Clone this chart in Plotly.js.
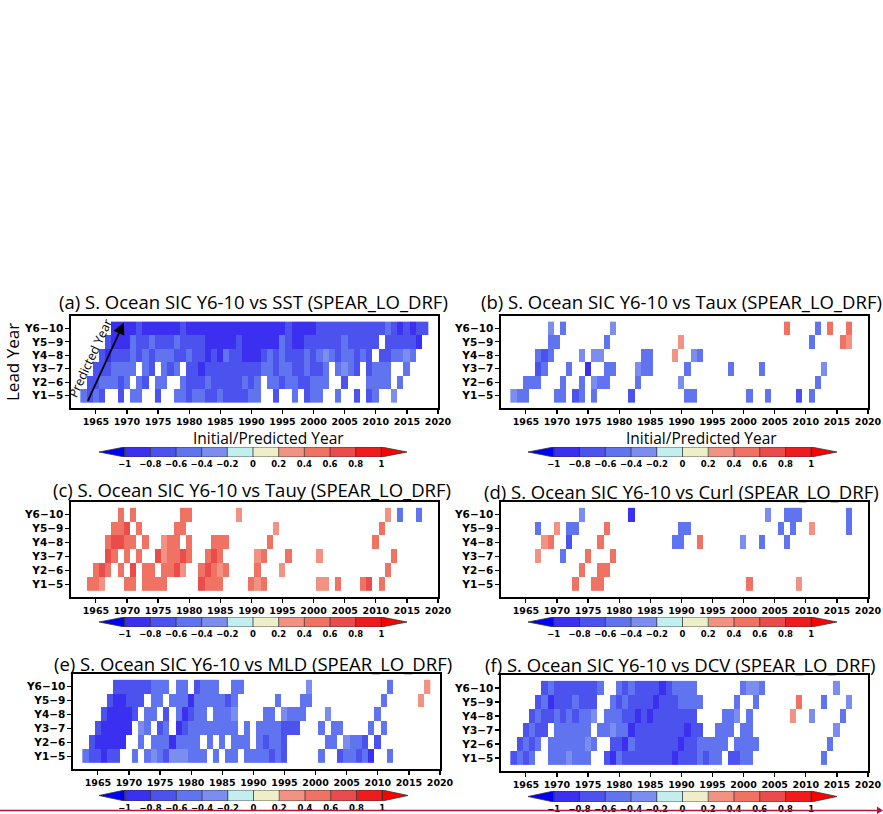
<!DOCTYPE html>
<html>
<head>
<meta charset="utf-8">
<script src="https://cdn.plot.ly/plotly-3.0.1.min.js"></script>
<style>
html,body{margin:0;padding:0;background:#fff;}
#chart{width:883px;height:814px;}
</style>
</head>
<body>
<div id="chart"></div>
<script>
const _ = null;

// Predicted-year axis (cell centres) and the first year of each lead row
const years = [1963,1964,1965,1966,1967,1968,1969,1970,1971,1972,1973,1974,1975,1976,1977,1978,1979,1980,
  1981,1982,1983,1984,1985,1986,1987,1988,1989,1990,1991,1992,1993,1994,1995,1996,1997,1998,1999,2000,
  2001,2002,2003,2004,2005,2006,2007,2008,2009,2010,2011,2012,2013,2014,2015,2016,2017,2018];
const leadLabels = ['Y1\u22125','Y2\u22126','Y3\u22127','Y4\u22128','Y5\u22129','Y6\u221210'];
const rowStart = [1963,1964,1965,1966,1967,1968];
const xTicks = [1965,1970,1975,1980,1985,1990,1995,2000,2005,2010,2015,2020];
const levels = [-1,-0.8,-0.6,-0.4,-0.2,0,0.2,0.4,0.6,0.8,1];
const levelColors = ['#3b2ff0','#4b52ee','#5f74ee','#7b8eef','#c2eeee','#eeeec8','#f29282','#f07262','#e94c4a','#ee1c1c'];
const belowColor = '#0000ff', aboveColor = '#ff0000';

// (a) SST
const sst_Y1_5 = [-.5,-.7,-.5,-.7,_,_,-.7,_,-.5,-.5, _,_,-.7,_,_,-.5,-.5,-.7,-.5,-.5, -.7,-.7,-.5,-.7,-.7,-.7,-.7,-.5,-.5,_, _,-.7,_,_,-.5,_,-.7,-.5,-.5,_, _,-.5,_,_,-.7,_,-.7,-.5,_,_, -.3];
const sst_Y2_6 = [-.7,-.7,-.5,-.5,-.5,-.7,-.5,_,-.5,-.7, _,-.5,-.5,_,_,-.5,-.7,-.7,-.7,-.5, -.7,-.7,-.7,-.7,-.7,-.5,-.7,-.5,_,-.5, -.5,-.7,-.5,-.5,-.7,-.7,-.5,-.5,-.5,_, _,-.7,_,_,_,-.5,-.5,-.5,-.5,_, -.5];
const sst_Y3_7 = [-.7,-.7,-.7,-.5,-.5,-.5,-.5,_,-.5,-.7, _,-.5,-.7,-.5,_,-.7,-.7,-.9,-.7,-.7, -.7,-.7,-.7,-.7,-.7,-.7,-.7,-.5,-.5,-.7, -.5,-.5,-.7,-.7,-.5,-.7,-.7,-.5,_,-.5, -.3,-.5,-.7,_,-.7,-.5,-.5,-.5,_,_, -.5];
const sst_Y4_8 = [-.7,-.9,-.7,-.7,-.7,-.5,-.7,-.5,-.7,-.5, -.5,-.5,-.7,-.7,-.5,-.7,-.7,-.9,-.7,-.9, -.5,-.7,-.7,-.9,-.9,-.9,-.7,-.5,-.7,-.5, -.7,-.7,-.7,-.5,-.7,-.5,-.3,-.5,-.7,-.5, -.5,-.7,-.5,-.7,_,-.7,-.7,-.5,-.5,-.3, -.5];
const sst_Y5_9 = [-.7,-.9,-.9,-.9,-.5,-.7,-.7,-.5,-.7,-.7, -.7,-.5,-.7,-.7,-.7,-.7,-.9,-.9,-.9,-.9, -.9,-.7,-.9,-.9,-.9,-.9,-.9,-.9,-.5,-.7, -.9,-.9,-.7,-.7,-.7,-.7,-.7,-.7,-.5,-.7, -.7,-.7,-.7,-.7,_,-.7,-.7,-.7,-.7,-.7, -.9];
const sst_Y6_10 = [-.9,-.9,-.9,-.9,-.7,-.9,-.9,-.9,-.9,-.9, -.9,-.7,-.9,-.9,-.9,-.9,-.9,-.9,-.9,-.9, -.9,-.9,-.9,-.9,-.9,-.9,-.9,-.9,-.7,-.9, -.9,-.9,-.9,-.7,-.7,-.7,-.7,-.7,-.7,-.7, -.7,-.7,-.7,-.7,-.5,-.7,-.9,-.7,-.9,-.7, -.7];

// (b) Taux
const taux_Y1_5 = [-.3,-.5,-.5,_,_,_,_,-.5,-.5,_, -.7,-.5,_,-.5,_,_,_,_,_,-.7, _,_,_,_,_,_,_,_,-.5,-.5, _,_,_,_,_,_,_,_,-.5,_, _,-.5,_,_,_,_,-.7,_,-.5,_, _];
const taux_Y2_6 = [_,-.5,-.5,-.5,_,_,_,-.5,_,_, -.5,_,-.3,-.5,-.5,_,_,_,_,-.5, _,_,_,_,_,_,-.3,_,_,_, _,_,_,_,_,_,_,_,_,_, _,_,_,_,_,_,_,_,-.5,_, _];
const taux_Y3_7 = [_,_,-.7,-.5,_,_,_,-.5,_,_, -.9,_,_,-.5,-.5,_,_,_,-.3,-.5, -.5,_,_,_,_,_,-.5,_,_,_, _,_,_,-.5,_,_,_,_,-.5,_, _,_,_,_,_,_,_,_,-.3,_, _];
const taux_Y4_8 = [_,-.5,-.7,-.5,_,_,_,_,-.3,_, -.3,-.3,_,_,_,_,_,_,-.5,-.5, _,_,_,.3,_,_,-.3,-.5,_,_, _,_,_,_,_,_,_,_,_,_, _,_,_,_,_,_,_,_,_,_, _];
const taux_Y5_9 = [_,_,-.5,-.5,_,_,_,_,_,_, _,-.5,_,_,_,_,_,_,_,_, _,_,_,.3,_,_,_,_,_,_, _,_,_,_,_,_,_,_,_,_, _,_,_,_,-.5,_,_,_,_,.5, .3];
const taux_Y6_10 = [_,-.3,_,-.5,_,_,_,_,_,_, _,-.3,_,_,_,_,_,_,_,_, _,_,_,_,_,_,_,_,_,_, _,_,_,_,_,_,_,_,_,.5, _,_,_,_,-.5,_,.5,_,_,.5, _];

// (c) Tauy
const tauy_Y1_5 = [_,.5,.5,.3,_,_,_,.5,.5,_, .5,.5,.5,.5,_,_,_,_,_,.7, .5,.5,.5,_,_,_,_,.5,.3,.5, _,_,_,_,_,_,_,_,.3,.3, _,.5,_,_,_,.5,.7,_,.5,_, _];
const tauy_Y2_6 = [_,.5,.7,.5,_,.5,_,.7,_,.5, .5,_,.5,.5,.7,.3,_,_,.5,.7, .5,.3,.5,_,_,_,_,.5,_,_, _,.3,_,_,_,_,_,_,_,_, _,_,_,_,_,_,_,_,.5,_, _];
const tauy_Y3_7 = [_,_,.7,.5,_,.5,_,.5,_,_, .7,.3,.5,.5,.7,.5,_,_,.5,.7, .5,_,_,_,_,_,.3,.5,_,_, _,.5,_,_,_,_,.3,_,_,_, _,_,_,_,_,_,_,_,.5,_, _];
const tauy_Y4_8 = [_,.5,.7,.7,.5,.5,_,.5,_,_, .3,.5,.5,_,.5,_,_,_,.5,.5, .5,_,_,_,_,_,_,.5,_,_, _,_,_,_,_,_,_,_,_,_, _,_,_,_,.5,_,_,_,_,_, _];
const tauy_Y5_9 = [_,.5,.5,.7,_,.5,_,_,_,_, _,.5,.5,_,_,_,_,_,_,_, _,_,_,_,_,_,_,.3,_,_, _,_,_,_,_,_,_,_,_,_, _,_,_,_,.5,_,_,_,_,_, _];
const tauy_Y6_10 = [_,.5,_,.5,_,_,_,_,_,_, _,.5,.5,_,_,_,_,_,_,_, .3,_,_,_,_,_,_,_,_,_, _,_,_,_,_,_,_,_,_,_, _,_,_,_,.3,_,-.5,_,_,-.5, _];

// (d) Curl
const curl_Y1_5 = [_,_,_,_,_,_,_,_,_,_, .5,_,_,.5,.5,_,_,_,_,_, _,_,_,_,_,_,_,_,_,_, _,_,_,_,_,_,_,_,.5,_, _,_,_,_,_,_,.3,_,_,_, _];
const curl_Y2_6 = [_,_,_,_,_,_,_,_,_,_, .5,_,_,.5,.5,_,_,_,_,_, _,_,_,_,_,_,_,_,_,_, _,_,_,_,_,_,_,_,_,_, _,_,_,_,_,_,_,_,_,_, _];
const curl_Y3_7 = [_,_,.3,_,_,_,-.5,_,_,_, .5,_,_,_,.5,_,_,_,_,_, _,_,_,_,_,_,_,_,_,_, _,_,_,_,_,_,_,_,_,_, _,_,_,_,_,_,_,_,_,_, _];
const curl_Y4_8 = [_,_,.3,.5,_,_,-.7,_,_,_, _,.5,_,_,_,_,_,_,_,_, _,_,_,-.5,-.5,_,_,.5,_,_, _,_,_,_,-.3,_,_,-.5,_,_, _,-.5,_,_,_,_,_,_,_,_, _];
const curl_Y5_9 = [-.5,_,_,.3,_,-.5,-.5,_,_,_, _,.5,_,_,_,_,_,_,_,_, _,_,_,-.5,-.5,_,_,_,_,_, _,_,_,_,_,_,_,_,_,-.5, _,-.5,_,_,.3,_,_,_,_,_, -.5];
const curl_Y6_10 = [_,_,_,_,_,_,-.3,_,_,_, _,_,_,_,-.9,_,_,_,_,_, _,_,_,_,_,_,_,_,_,_, _,_,_,_,_,_,-.3,_,_,-.5, -.5,-.5,_,_,_,_,_,_,_,-.5, _];

// (e) MLD
const mld_Y1_5 = [-.5,-.7,-.7,-.9,-.7,-.7,_,_,-.5,_, -.5,-.3,-.5,-.7,-.3,-.3,-.3,-.5,-.5,-.5, _,-.5,_,-.5,-.5,_,-.5,-.5,-.5,-.5, -.7,-.5,-.7,_,_,_,_,_,-.5,_, _,-.7,-.5,-.5,-.7,-.5,-.9,_,_,-.5, _];
const mld_Y2_6 = [-.7,-.9,-.9,-.9,-.9,-.9,_,_,-.5,_, -.5,-.5,-.5,-.9,-.5,-.5,-.5,-.5,_,-.5, _,-.5,_,-.5,-.5,-.5,_,-.5,-.7,-.5, -.5,-.7,_,_,_,_,_,_,-.5,-.5, _,-.3,-.5,-.5,-.7,_,-.7,_,_,_, _];
const mld_Y3_7 = [-.7,-.9,-.9,-.9,-.9,-.9,_,-.3,-.5,_, -.7,-.5,_,-.9,-.7,-.5,-.5,-.5,-.5,-.5, -.5,-.5,-.5,_,-.5,_,-.5,-.5,-.5,-.5, -.7,-.7,-.7,_,_,_,-.5,_,-.5,-.5, _,_,_,_,-.5,_,-.5,_,_,_, _];
const mld_Y4_8 = [-.7,-.9,-.9,-.9,-.9,-.7,_,-.5,-.5,_, -.7,_,-.5,-.9,-.7,-.5,-.5,_,-.5,-.5, -.5,-.3,_,_,_,_,-.5,-.5,_,-.3, -.5,-.5,-.5,_,_,_,-.3,_,_,_, _,_,_,_,-.5,_,_,_,_,_, _];
const mld_Y5_9 = [-.7,-.9,-.9,-.7,-.7,-.7,_,-.5,-.5,_, -.5,-.5,-.5,-.9,-.5,-.5,-.5,-.5,-.5,-.7, -.5,_,_,_,_,_,_,-.5,_,_, _,-.5,-.5,_,_,_,_,_,_,_, _,_,_,_,-.5,_,_,_,_,_, .3];
const mld_Y6_10 = [-.7,-.7,-.7,-.7,-.7,-.7,-.5,-.5,-.5,_, -.5,-.5,_,-.7,-.5,-.5,-.5,_,_,-.5, -.5,_,_,_,_,_,_,_,_,_, _,-.3,_,_,_,_,_,_,_,_, _,_,_,_,-.5,_,_,_,_,_, .3];

// (f) DCV
const dcv_Y1_5 = [-.7,-.5,-.7,-.5,_,_,-.5,-.5,-.5,-.3, -.5,-.5,-.5,_,_,-.7,-.9,-.5,-.7,-.7, -.7,-.7,-.7,-.7,-.7,-.7,-.9,-.7,-.7,-.7, -.5,-.7,-.5,-.5,_,-.7,-.7,-.5,-.5,_, _,_,_,_,_,_,_,_,_,_, -.5];
const dcv_Y2_6 = [-.7,-.5,-.7,-.5,_,-.5,-.5,-.5,-.5,-.5, -.5,-.3,-.5,_,_,-.7,-.7,-.9,-.5,-.7, -.7,-.7,-.7,-.7,-.7,-.7,-.9,-.7,-.7,-.5, -.5,-.5,-.5,-.5,_,-.5,-.5,-.5,-.5,_, _,_,_,_,_,_,_,_,_,_, -.5];
const dcv_Y3_7 = [-.7,-.5,-.7,-.7,_,-.5,-.5,-.5,-.5,-.5, -.5,_,-.5,-.5,-.3,-.5,-.5,-.9,-.7,-.7, -.7,-.7,-.7,-.7,-.7,-.7,-.9,-.7,-.7,_, _,-.5,-.5,-.5,_,-.5,-.5,_,_,_, _,_,_,_,_,_,_,_,_,_, -.3];
const dcv_Y4_8 = [-.7,-.5,-.7,-.7,-.5,-.7,-.5,-.7,-.5,-.5, -.3,_,-.5,-.5,-.5,-.7,-.7,-.9,-.7,-.9, -.7,-.7,-.7,-.7,-.7,-.7,-.7,_,_,_, _,-.5,-.5,-.3,_,-.5,_,_,_,_, _,_,.3,_,_,-.3,_,_,_,_, -.5];
const dcv_Y5_9 = [-.7,-.5,-.9,-.7,-.7,-.7,-.5,-.7,-.7,-.7, _,_,-.5,-.7,-.5,-.7,-.7,-.7,-.7,-.9, -.7,-.7,-.7,-.5,-.5,-.5,-.5,_,_,_, _,_,-.5,_,_,-.5,_,_,_,_, _,_,.5,_,_,_,-.5,_,_,_, -.3];
const dcv_Y6_10 = [-.7,-.5,-.7,-.7,-.7,-.7,-.7,-.7,-.7,-.5, _,_,-.5,-.7,-.5,-.7,-.7,-.7,-.7,-.9, -.7,-.5,-.5,-.5,-.5,_,_,_,_,_, _,_,-.5,-.3,-.3,-.5,_,_,_,_, _,_,_,_,_,_,_,-.3,_,_, _];

const sstRows  = [sst_Y1_5, sst_Y2_6, sst_Y3_7, sst_Y4_8, sst_Y5_9, sst_Y6_10];
const tauxRows = [taux_Y1_5, taux_Y2_6, taux_Y3_7, taux_Y4_8, taux_Y5_9, taux_Y6_10];
const tauyRows = [tauy_Y1_5, tauy_Y2_6, tauy_Y3_7, tauy_Y4_8, tauy_Y5_9, tauy_Y6_10];
const curlRows = [curl_Y1_5, curl_Y2_6, curl_Y3_7, curl_Y4_8, curl_Y5_9, curl_Y6_10];
const mldRows  = [mld_Y1_5, mld_Y2_6, mld_Y3_7, mld_Y4_8, mld_Y5_9, mld_Y6_10];
const dcvRows  = [dcv_Y1_5, dcv_Y2_6, dcv_Y3_7, dcv_Y4_8, dcv_Y5_9, dcv_Y6_10];

// ---------- drawing ----------
const W = 883, H = 814;
const fx = p => p / W;
const fy = p => 1 - p / H;

const colorscale = [];
levelColors.forEach((c, i) => { colorscale.push([i / 10, c]); colorscale.push([(i + 1) / 10, c]); });

function gridFor(rows) {
  return rows.map((vals, k) => years.map(yr => {
    const i = yr - rowStart[k];
    return (i >= 0 && i < vals.length) ? vals[i] : null;
  }));
}

const panels = [
  {rows: sstRows,  title: '(a) S. Ocean SIC Y6-10 vs SST (SPEAR_LO_DRF)',  box: [71, 438, 316, 408], bar: [99, 407, 447, 457], tx: 254, ty: 301},
  {rows: tauxRows, title: '(b) S. Ocean SIC Y6-10 vs Taux (SPEAR_LO_DRF)', box: [501, 868, 316, 408], bar: [528, 837, 447, 457], tx: 681, ty: 301},
  {rows: tauyRows, title: '(c) S. Ocean SIC Y6-10 vs Tauy (SPEAR_LO_DRF)', box: [71, 438, 502, 597], bar: [99, 407, 617, 627], tx: 252, ty: 489},
  {rows: curlRows, title: '(d) S. Ocean SIC Y6-10 vs Curl (SPEAR_LO_DRF)', box: [501, 868, 502, 597], bar: [528, 837, 617, 627], tx: 681, ty: 491},
  {rows: mldRows,  title: '(e) S. Ocean SIC Y6-10 vs MLD (SPEAR_LO_DRF)',  box: [73, 440, 674, 769], bar: [99, 408, 790, 801], tx: 253, ty: 663},
  {rows: dcvRows,  title: '(f) S. Ocean SIC Y6-10 vs DCV (SPEAR_LO_DRF)',  box: [501, 868, 675, 771], bar: [528, 837, 791, 802], tx: 680, ty: 664}
];

const xTickFont = {family: 'DejaVu Sans', size: 9.5, color: '#000', weight: 'bold'};
const yTickFont = {family: 'DejaVu Sans', size: 10.5, color: '#000', weight: 'bold'};
const titleFont = {family: 'Open Sans', size: 18.5, color: '#000'};
const axisTitleFont = {family: 'Open Sans', size: 15.5, color: '#000'};

const data = [];
const layout = {
  width: W, height: H,
  margin: {l: 0, r: 0, t: 0, b: 0},
  paper_bgcolor: '#fff', plot_bgcolor: '#fff',
  showlegend: false,
  annotations: [], shapes: []
};

panels.forEach((p, i) => {
  const n1 = 2 * i + 1, n2 = 2 * i + 2;
  const xa = 'xaxis' + (n1 === 1 ? '' : n1), ya = 'yaxis' + (n1 === 1 ? '' : n1);
  const xr = 'x' + (n1 === 1 ? '' : n1), yr = 'y' + (n1 === 1 ? '' : n1);

  data.push({
    type: 'heatmap', x: years, y: [0, 1, 2, 3, 4, 5], z: gridFor(p.rows),
    colorscale: colorscale, zmin: -1, zmax: 1, showscale: false, hoverinfo: 'skip',
    xaxis: xr, yaxis: yr
  });

  layout[xa] = {
    domain: [fx(p.box[0]), fx(p.box[1])], anchor: yr, range: [1961, 2020],
    tickmode: 'array', tickvals: xTicks, ticks: 'outside', ticklen: 4, tickwidth: 1.2, tickcolor: '#000',
    showline: true, mirror: true, linecolor: '#000', linewidth: 1.6,
    showgrid: false, zeroline: false, tickfont: xTickFont, fixedrange: true
  };
  layout[ya] = {
    domain: [fy(p.box[3]), fy(p.box[2])], anchor: xr, range: [-0.92, 5.92],
    tickmode: 'array', tickvals: [0, 1, 2, 3, 4, 5], ticktext: leadLabels,
    ticks: 'outside', ticklen: 4, tickwidth: 1.2, tickcolor: '#000',
    showline: true, mirror: true, linecolor: '#000', linewidth: 1.6,
    showgrid: false, zeroline: false, tickfont: yTickFont, fixedrange: true
  };

  // label bar: one heatmap row across the contour levels plus end triangles
  const cxa = 'xaxis' + n2, cya = 'yaxis' + n2, cxr = 'x' + n2, cyr = 'y' + n2;
  const mids = levels.slice(0, -1).map((v, j) => (v + levels[j + 1]) / 2);
  data.push({
    type: 'heatmap', x: levels, y: [0, 1], z: [mids],
    colorscale: colorscale, zmin: -1, zmax: 1, showscale: false, hoverinfo: 'skip',
    xaxis: cxr, yaxis: cyr
  });
  data.push({type: 'scatter', mode: 'lines', x: [-1, -1.2, -1, -1], y: [0, 0.5, 1, 0], fill: 'toself',
    fillcolor: belowColor, line: {color: '#333', width: 0.8}, hoverinfo: 'skip', xaxis: cxr, yaxis: cyr});
  data.push({type: 'scatter', mode: 'lines', x: [1, 1.2, 1, 1], y: [0, 0.5, 1, 0], fill: 'toself',
    fillcolor: aboveColor, line: {color: '#333', width: 0.8}, hoverinfo: 'skip', xaxis: cxr, yaxis: cyr});
  const sx = [], sy = [];
  levels.forEach(v => { sx.push(v, v, null); sy.push(0, 1, null); });
  sx.push(-1, 1, null, -1, 1); sy.push(0, 0, null, 1, 1);
  data.push({type: 'scatter', mode: 'lines', x: sx, y: sy, line: {color: '#333', width: 0.8},
    hoverinfo: 'skip', xaxis: cxr, yaxis: cyr});

  layout[cxa] = {
    domain: [fx(p.bar[0]), fx(p.bar[1])], anchor: cyr, range: [-1.2, 1.2],
    tickmode: 'array', tickvals: levels,
    ticktext: levels.map(v => (v < 0 ? '\u2212' : '') + String(Math.abs(v))),
    ticks: '', showline: false, showgrid: false, zeroline: false,
    tickfont: {family: 'DejaVu Sans', size: 8.5, color: '#000', weight: 'bold'}, fixedrange: true
  };
  layout[cya] = {domain: [fy(p.bar[3]), fy(p.bar[2])], anchor: cxr, range: [0, 1], visible: false, fixedrange: true};

  layout.annotations.push({
    text: p.title, xref: 'paper', yref: 'paper', x: fx(p.tx), y: fy(p.ty),
    xanchor: 'center', yanchor: 'middle', showarrow: false, font: titleFont
  });
});

// axis captions of the top row
layout.annotations.push({text: 'Lead Year', xref: 'paper', yref: 'paper', x: fx(13), y: fy(362),
  textangle: -90, xanchor: 'center', yanchor: 'middle', showarrow: false,
  font: {family: 'Open Sans', size: 17, color: '#000'}});
layout.annotations.push({text: 'Initial/Predicted Year', xref: 'paper', yref: 'paper', x: fx(268), y: fy(438),
  xanchor: 'center', yanchor: 'middle', showarrow: false, font: axisTitleFont});
layout.annotations.push({text: 'Initial/Predicted Year', xref: 'paper', yref: 'paper', x: fx(701), y: fy(438),
  xanchor: 'center', yanchor: 'middle', showarrow: false, font: axisTitleFont});

// diagonal guide in panel (a)
layout.annotations.push({x: 1969.5, y: 5.43, ax: 1963.6, ay: -0.5, xref: 'x', yref: 'y', axref: 'x', ayref: 'y',
  text: '', showarrow: true, arrowhead: 2, arrowsize: 1.3, arrowwidth: 1.8, arrowcolor: '#000'});
layout.annotations.push({text: 'Predicted Year', x: 1964.2, y: 2.8, xref: 'x', yref: 'y', textangle: -65,
  showarrow: false, xanchor: 'center', yanchor: 'middle', font: {family: 'Open Sans', size: 12.5, color: '#000'}});

// page rule along the bottom edge
layout.shapes.push({type: 'line', xref: 'paper', yref: 'paper', x0: 0, x1: fx(879), y0: fy(810.5), y1: fy(810.5),
  line: {color: '#b3163d', width: 1.6}});
layout.shapes.push({type: 'path', xref: 'paper', yref: 'paper',
  path: `M ${fx(877)} ${fy(806.5)} L ${fx(883)} ${fy(810.5)} L ${fx(877)} ${fy(814)} Z`,
  fillcolor: '#b3163d', line: {width: 0}});

Plotly.newPlot('chart', data, layout, {staticPlot: true, displayModeBar: false});
</script>
</body>
</html>
